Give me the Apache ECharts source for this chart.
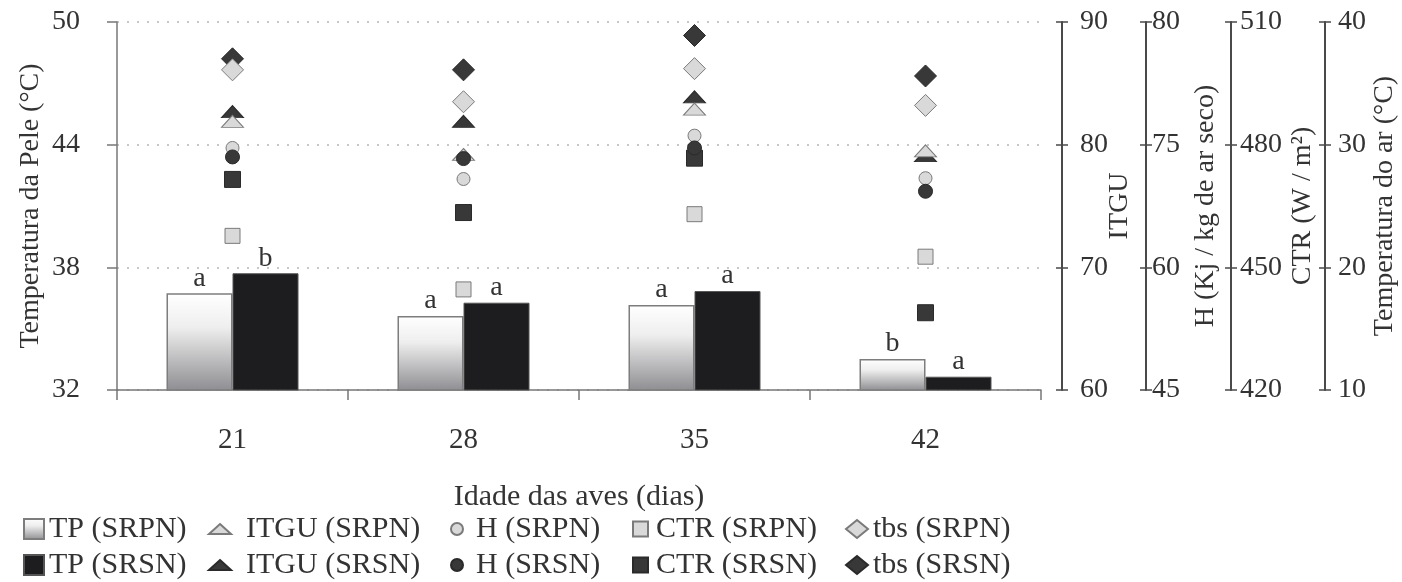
<!DOCTYPE html>
<html>
<head>
<meta charset="utf-8">
<script src="https://cdn.jsdelivr.net/npm/echarts@6/dist/echarts.min.js"></script>
<style>
html,body{margin:0;padding:0;background:#fff;}
#chart{width:1402px;height:582px;}
</style>
</head>
<body>
<div id="chart"></div>
<script>
// ---- data ----
var categories = ['21', '28', '35', '42'];
var tpSRPN = [36.73, 35.62, 36.16, 33.52];
var tpSRSN = [37.71, 36.27, 36.84, 32.65];
var letterSRPN = ['a', 'a', 'a', 'b'];
var letterSRSN = ['b', 'a', 'a', 'a'];
var itguSRPN = [81.9, 79.2, 82.9, 79.5];
var itguSRSN = [82.7, 81.9, 83.9, 79.1];
var hSRPN = [74.6, 70.8, 76.1, 70.9];
var hSRSN = [73.5, 73.3, 74.6, 69.3];
var ctrSRPN = [457.7, 444.6, 463.0, 452.6];
var ctrSRSN = [471.5, 463.4, 476.7, 438.9];
var tbsSRPN = [36.1, 33.5, 36.2, 33.2];
var tbsSRSN = [37.0, 36.1, 38.9, 35.6];
// tick labels of the H axis as printed (evenly spaced)
var hTickValues = [45, 60, 75, 90];
var hTickLabels = ['45', '60', '75', '80'];

var FONT = "'Liberation Serif', 'DejaVu Serif', serif";
var TXT = '#333';
var LIGHT = '#d9d9d9', LIGHTB = '#7a7a7a';
var DARK = '#383838', DARKB = '#2a2a2a';

function rightAxis(name, min, max, interval, offset, margin, gap, formatter) {
  return {
    type: 'value', position: 'right', offset: offset,
    min: min, max: max, interval: interval,
    name: name, nameLocation: 'middle', nameGap: gap, nameMoveOverlap: false,
    nameTextStyle: {fontFamily: FONT, fontSize: 28, color: TXT},
    axisLine: {show: true, lineStyle: {color: '#4a4a4a', width: 2}},
    axisTick: {show: true, inside: false, length: 6, lineStyle: {color: '#4a4a4a', width: 1.5}},
    axisLabel: {fontFamily: FONT, fontSize: 28, color: TXT, margin: margin, formatter: formatter},
    splitLine: {show: false}
  };
}
function innerTicks(min, max, interval, offset) {
  return {
    type: 'value', position: 'right', offset: offset,
    min: min, max: max, interval: interval,
    axisLine: {show: false},
    axisTick: {show: true, inside: true, length: 6, lineStyle: {color: '#4a4a4a', width: 1.5}},
    axisLabel: {show: false},
    splitLine: {show: false}
  };
}

var chart = echarts.init(document.getElementById('chart'), null, {renderer: 'canvas'});

function scatter(name, data, yIdx, symbol, size, fill, border) {
  return {
    name: name, type: 'scatter', yAxisIndex: yIdx, data: data,
    symbol: symbol, symbolSize: size,
    itemStyle: {color: fill, borderColor: border, borderWidth: 1, opacity: 1}
  };
}

function legendCol(left, names, icon, w, h, padLeft) {
  return {
    orient: 'vertical', left: left, top: 514, height: 68, padding: 0,
    itemWidth: w, itemHeight: h, itemGap: 6, icon: icon,
    selectedMode: false,
    textStyle: {fontFamily: FONT, fontSize: 30, color: TXT, lineHeight: 30, padding: [0, 0, 0, padLeft]},
    data: names
  };
}

var option = {
  animation: false,
  backgroundColor: '#fff',
  grid: {left: 117, right: 361, top: 22, bottom: 192, containLabel: false, outerBoundsMode: 'none'},
  legend: [
    legendCol(23, ['TP (SRPN)', 'TP (SRSN)'], 'rect', 20, 20, 0),
    legendCol(208, ['ITGU (SRPN)', 'ITGU (SRSN)'], 'triangle', 22, 10, 10),
    legendCol(450, ['H (SRPN)', 'H (SRSN)'], 'circle', 12, 12, 8),
    legendCol(632, ['CTR (SRPN)', 'CTR (SRSN)'], 'rect', 15, 15, 3),
    legendCol(845, ['tbs (SRPN)', 'tbs (SRSN)'], 'diamond', 22, 18, 0)
  ],
  xAxis: {
    type: 'category', data: categories, boundaryGap: true,
    name: 'Idade das aves (dias)', nameLocation: 'middle', nameGap: 92, nameMoveOverlap: false,
    nameTextStyle: {fontFamily: FONT, fontSize: 30, color: TXT},
    axisLine: {show: true, lineStyle: {color: '#777', width: 1.5}},
    axisTick: {show: true, length: 10, lineStyle: {color: '#777', width: 1.5}},
    axisLabel: {fontFamily: FONT, fontSize: 29, color: TXT, margin: 36}
  },
  yAxis: [
    {
      type: 'value', position: 'left', min: 32, max: 50, interval: 6,
      name: 'Temperatura da Pele (°C)', nameLocation: 'middle', nameGap: 72, nameMoveOverlap: false,
      nameTextStyle: {fontFamily: FONT, fontSize: 28, color: TXT},
      axisLine: {show: true, lineStyle: {color: '#777', width: 1.5}},
      axisTick: {show: true, length: 10, lineStyle: {color: '#777', width: 1.5}},
      axisLabel: {fontFamily: FONT, fontSize: 28, color: TXT, margin: 37},
      splitLine: {show: true, lineStyle: {color: '#b5b5b5', type: [2, 8], width: 1.5}}
    },
    rightAxis('ITGU', 60, 90, 10, 21, 18, 44),
    rightAxis('H (Kj / kg de ar seco)', 45, 90, 15, 105, 6, 46, function (v) {
      var i = hTickValues.indexOf(v); return i >= 0 ? hTickLabels[i] : '';
    }),
    rightAxis('CTR (W / m²)', 420, 510, 30, 190, 9, 58),
    rightAxis('Temperatura do ar (°C)', 10, 40, 10, 284, 13, 46),
    innerTicks(60, 90, 10, 21),
    innerTicks(45, 90, 15, 105),
    innerTicks(420, 510, 30, 190),
    innerTicks(10, 40, 10, 284)
  ],
  series: [
    {
      name: 'TP (SRPN)', type: 'bar', yAxisIndex: 0, data: tpSRPN,
      barWidth: 66, barGap: '0%',
      itemStyle: {
        color: new echarts.graphic.LinearGradient(0, 0, 0, 1, [
          {offset: 0, color: '#ffffff'}, {offset: 0.35, color: '#eeeeee'}, {offset: 1, color: '#8e8e92'}
        ]),
        borderColor: '#7d7d7d', borderWidth: 1.5
      },
      label: {show: true, position: 'top', distance: 1, fontFamily: FONT, fontSize: 28, color: TXT,
        formatter: function (p) { return letterSRPN[p.dataIndex]; }}
    },
    {
      name: 'TP (SRSN)', type: 'bar', yAxisIndex: 0, data: tpSRSN,
      barWidth: 66, barGap: '0%',
      itemStyle: {color: '#1d1d1f', borderColor: '#555', borderWidth: 1},
      label: {show: true, position: 'top', distance: 1, fontFamily: FONT, fontSize: 28, color: TXT,
        formatter: function (p) { return letterSRSN[p.dataIndex]; }}
    },
    scatter('CTR (SRPN)', ctrSRPN, 3, 'rect', 15, LIGHT, LIGHTB),
    scatter('CTR (SRSN)', ctrSRSN, 3, 'rect', 16, DARK, DARKB),
    scatter('ITGU (SRSN)', itguSRSN, 1, 'triangle', [22, 12], DARK, DARKB),
    scatter('ITGU (SRPN)', itguSRPN, 1, 'triangle', [22, 12], LIGHT, LIGHTB),
    scatter('H (SRPN)', hSRPN, 2, 'circle', 13, LIGHT, LIGHTB),
    scatter('H (SRSN)', hSRSN, 2, 'circle', 14, DARK, DARKB),
    scatter('tbs (SRSN)', tbsSRSN, 4, 'diamond', 22, DARK, DARKB),
    scatter('tbs (SRPN)', tbsSRPN, 4, 'diamond', 22, LIGHT, LIGHTB)
  ]
};
chart.setOption(option);
</script>
</body>
</html>
